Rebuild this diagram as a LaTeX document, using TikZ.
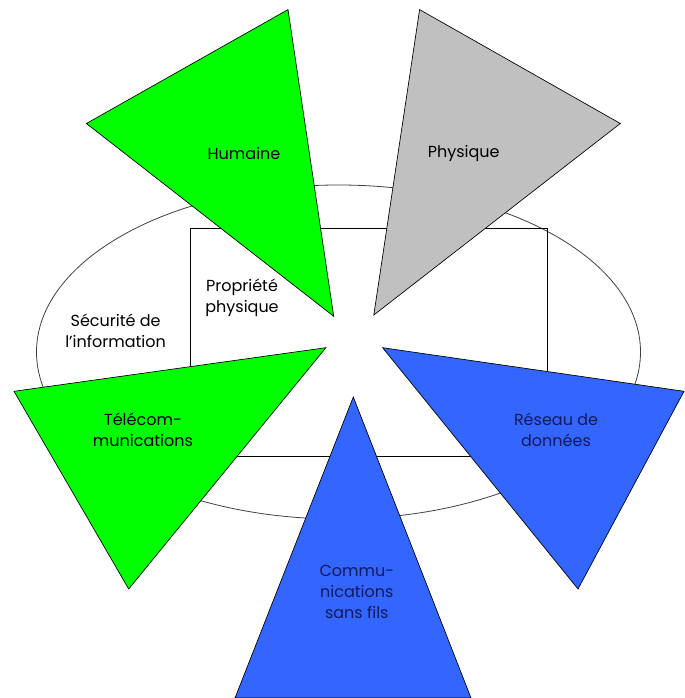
\documentclass[tikz,border=0pt]{standalone}
\usepackage{fontspec}
\setmainfont{Poppins}
\usepackage{tikz}
\usetikzlibrary{calc}

\definecolor{wedgegreen}{RGB}{0,255,0}
\definecolor{wedgegray}{RGB}{192,192,192}
\definecolor{wedgeblue}{RGB}{51,102,255}
\definecolor{navytext}{RGB}{20,25,95}

\tikzset{
  wedge/.style={draw=black, line width=0.5pt, line join=miter},
  frame/.style={draw=black, line width=0.6pt},
  label/.style={font=\fontsize{12}{15.75}\selectfont, align=center, inner sep=0pt}
}

\begin{document}
\begin{tikzpicture}[x=0.75pt,y=-0.75pt]
\useasboundingbox (0,0) rectangle (684,698);

% fond
\draw[frame, draw=black!75] (338.5,352) ellipse (302 and 167);
\draw[frame] (190.6,228) rectangle (547.5,456.7);

\node[label] (secu) at (115.6,331) {Sécurité de\\l’information};
\node[label] (prop) at (242,298) {Propriété\\physique};

% triangles
\coordinate (H1) at (288,9.6);
\coordinate (H2) at (86.4,123.5);
\coordinate (H3) at (333.7,316.3);
\coordinate (P1) at (419.6,9.6);
\coordinate (P2) at (620.3,123.5);
\coordinate (P3) at (373.8,315);
\coordinate (T1) at (325.9,347.7);
\coordinate (T2) at (14,391.3);
\coordinate (T3) at (128.7,589);
\coordinate (R1) at (382.6,347.7);
\coordinate (R2) at (684,391.3);
\coordinate (R3) at (578,589);
\coordinate (C1) at (353.3,397);
\coordinate (C2) at (235,698);
\coordinate (C3) at (471,698);

\filldraw[wedge, fill=wedgegreen] (H1)--(H2)--(H3)--cycle;
\filldraw[wedge, fill=wedgegray] (P1)--(P2)--(P3)--cycle;
\filldraw[wedge, fill=wedgegreen] (T1)--(T2)--(T3)--cycle;
\filldraw[wedge, fill=wedgeblue] (R1)--(R2)--(R3)--cycle;
\filldraw[wedge, fill=wedgeblue] (C1)--(C2)--(C3)--cycle;

\node[label] (hum) at (244,153) {Humaine};
\node[label] (phy) at (463.7,153) {Physique};
\node[label] (tel) at (143,430) {Télécom-\\munications};
\node[label, text=navytext] (res) at (556,430) {Réseau de\\données};
\node[label, text=navytext] (com) at (356.8,592) {Commu-\\nications\\sans fils};

\end{tikzpicture}
\end{document}
